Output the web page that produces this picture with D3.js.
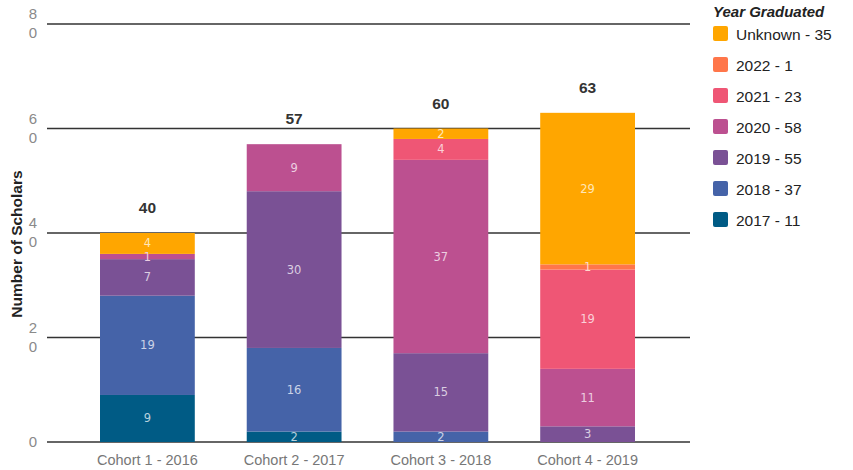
<!DOCTYPE html>
<html lang="en">
<head>
    <meta charset="UTF-8">
    <title>Scholars by Cohort</title>
    <script src="https://cdn.jsdelivr.net/npm/d3@7/dist/d3.min.js"></script>
    <style>
        body { margin: 0; background: #fff; }
        text { font-family: "Liberation Sans", Arial, sans-serif; }
    </style>
</head>
<body>
    <div id="chart"></div>
    <script>
        // data
        const cohorts = ["Cohort 1 - 2016", "Cohort 2 - 2017", "Cohort 3 - 2018", "Cohort 4 - 2019"];
        const years = ["2017", "2018", "2019", "2020", "2021", "2022", "Unknown"];
        const grad2017 = [9, 2, 0, 0];
        const grad2018 = [19, 16, 2, 0];
        const grad2019 = [7, 30, 15, 3];
        const grad2020 = [1, 9, 37, 11];
        const grad2021 = [0, 0, 4, 19];
        const grad2022 = [0, 0, 0, 1];
        const gradUnknown = [4, 0, 2, 29];
        const yTicks = [0, 20, 40, 60, 80];
        const colors = ["#005b85", "#4563a8", "#7a5195", "#bc5090", "#ef5675", "#ff764a", "#ffa600"];

        const series = [grad2017, grad2018, grad2019, grad2020, grad2021, grad2022, gradUnknown];
        const rows = cohorts.map((c, i) => {
            const r = { cohort: c };
            years.forEach((y, j) => r[y] = series[j][i]);
            return r;
        });
        const totals = cohorts.map((c, i) => d3.sum(series, s => s[i]));
        const legendItems = years.map((y, j) => ({ year: y, total: d3.sum(series[j]), color: colors[j] }))
            .reverse();

        const width = 853, height = 470;
        const margin = { top: 24, right: 163, bottom: 28, left: 47 };

        const svg = d3.select("#chart").append("svg")
            .attr("width", width)
            .attr("height", height);

        const x = d3.scaleBand()
            .domain(cohorts)
            .range([100, 635])
            .paddingInner(0.354)
            .paddingOuter(0);

        const y = d3.scaleLinear()
            .domain([0, 80])
            .range([height - margin.bottom, margin.top]);

        // gridlines
        svg.append("g")
            .selectAll("line")
            .data(yTicks)
            .join("line")
            .attr("x1", margin.left)
            .attr("x2", width - margin.right)
            .attr("y1", d => y(d))
            .attr("y2", d => y(d))
            .style("stroke", "#333")
            .style("stroke-width", 1.3);

        // y tick labels, wrapped one digit per line like the original
        const tickG = svg.append("g");
        yTicks.forEach(t => {
            const chars = String(t).split("");
            const txt = tickG.append("text")
                .attr("x", 33)
                .attr("y", y(t) + (chars.length > 1 ? -5 : 5))
                .attr("text-anchor", "middle")
                .style("font-size", "15px")
                .style("fill", "#8a8a8a");
            chars.forEach((ch, k) => {
                txt.append("tspan")
                    .attr("x", 33)
                    .attr("dy", k === 0 ? 0 : 19)
                    .text(ch);
            });
        });

        // y axis title
        svg.append("text")
            .attr("transform", `translate(22, 244) rotate(-90)`)
            .attr("text-anchor", "middle")
            .style("font-size", "15.5px")
            .style("font-weight", "bold")
            .style("fill", "#222")
            .text("Number of Scholars");

        // stacked bars
        const stacked = d3.stack().keys(years)(rows);
        const layers = svg.append("g")
            .selectAll("g")
            .data(stacked)
            .join("g")
            .attr("fill", (d, i) => colors[i]);

        layers.selectAll("rect")
            .data(d => d.filter(p => p[1] - p[0] > 0))
            .join("rect")
            .attr("x", d => x(d.data.cohort))
            .attr("y", d => y(d[1]))
            .attr("width", x.bandwidth())
            .attr("height", d => y(d[0]) - y(d[1]));

        // segment labels
        stacked.forEach((layer, i) => {
            const labelColor = d3.interpolateRgb(colors[i], "#fff")(0.72);
            svg.append("g")
                .selectAll("text")
                .data(layer.filter(p => p[1] - p[0] > 0))
                .join("text")
                .attr("x", d => x(d.data.cohort) + x.bandwidth() / 2)
                .attr("y", d => (y(d[0]) + y(d[1])) / 2 + 4)
                .attr("text-anchor", "middle")
                .style("font-family", "'DejaVu Sans', sans-serif")
                .style("font-size", "11.5px")
                .style("fill", labelColor)
                .text(d => d[1] - d[0]);
        });

        // totals above bars
        svg.append("g")
            .selectAll("text")
            .data(cohorts)
            .join("text")
            .attr("x", d => x(d) + x.bandwidth() / 2)
            .attr("y", (d, i) => y(totals[i]) - 20)
            .attr("text-anchor", "middle")
            .style("font-size", "15.5px")
            .style("font-weight", "bold")
            .style("fill", "#333")
            .text((d, i) => totals[i]);

        // x labels
        svg.append("g")
            .selectAll("text")
            .data(cohorts)
            .join("text")
            .attr("x", d => x(d) + x.bandwidth() / 2)
            .attr("y", 465)
            .attr("text-anchor", "middle")
            .style("font-size", "14.5px")
            .style("fill", "#777")
            .text(d => d);

        // legend
        const legend = svg.append("g").attr("transform", "translate(713, 0)");
        legend.append("text")
            .attr("x", 0)
            .attr("y", 17)
            .style("font-size", "15px")
            .style("font-weight", "bold")
            .style("font-style", "italic")
            .style("fill", "#222")
            .text("Year Graduated");

        const items = legend.selectAll("g.item")
            .data(legendItems)
            .join("g")
            .attr("class", "item")
            .attr("transform", (d, i) => `translate(0, ${34 + i * 31})`);

        items.append("rect")
            .attr("x", 0)
            .attr("y", -8)
            .attr("width", 15)
            .attr("height", 15)
            .attr("rx", 2)
            .attr("fill", d => d.color);

        items.append("text")
            .attr("x", 23)
            .attr("y", 6)
            .style("font-size", "15.5px")
            .style("fill", "#222")
            .text(d => `${d.year} - ${d.total}`);
    </script>
</body>
</html>
